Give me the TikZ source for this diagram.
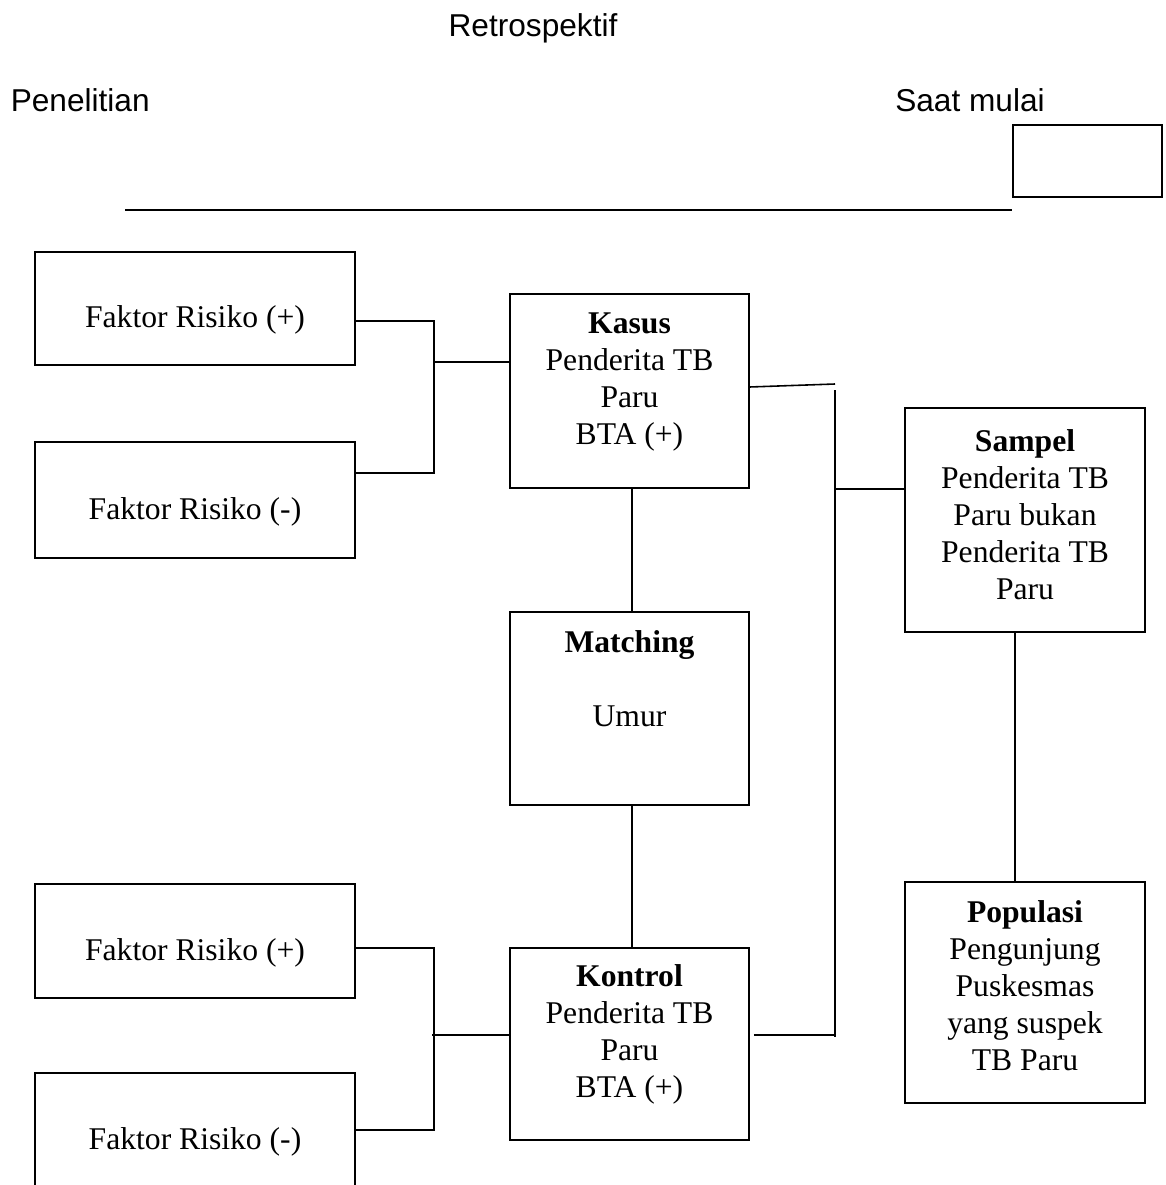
\documentclass[tikz,border=0pt]{standalone}
\usepackage{fontspec}
\setmainfont{Liberation Serif}
\setsansfont{Liberation Sans}
\usetikzlibrary{calc}

\begin{document}
\begin{tikzpicture}[x=0.02cm,y=-0.02cm,line width=0.9pt,
  box/.style={draw,inner sep=0pt,font=\fontsize{18}{21}\selectfont},
  isi/.style={anchor=north,yshift=-0.38cm,align=center,inner sep=0pt,font=\fontsize{18}{21}\selectfont},
  fr/.style={box,minimum width=6.4cm,label={[yshift=-0.23cm,inner sep=0pt,font=\fontsize{18}{21}\selectfont]center:#1}},
  judul/.style={font=\sffamily\fontsize{18}{21}\selectfont,inner sep=0pt}]
\useasboundingbox (0,0) rectangle (1165,1185);
% judul
\node[judul] (retro) at (533,28) {Retrospektif};
\node[judul,anchor=west] (penelitian) at (10,100) {Penelitian};
\node[judul] (saat) at (970,100) {Saat mulai};
\node[box,minimum width=2.98cm,minimum height=1.44cm] (kotak) at (1087.5,161) {};
\coordinate (awal) at (125,210);
\draw (awal) -- (awal -| kotak.west);
% faktor risiko
\node[fr={Faktor Risiko (+)},minimum height=2.26cm] (fra) at (195,308.5) {};
\node[fr={Faktor Risiko (-)},minimum height=2.32cm] (frb) at (195,500) {};
\node[fr={Faktor Risiko (+)},minimum height=2.28cm] (frc) at (195,941) {};
\node[fr={Faktor Risiko (-)},minimum height=2.3cm] (frd) at (195,1130.5) {};
% kasus, matching, kontrol
\node[box,minimum width=4.78cm,minimum height=3.88cm,
  label={[isi]north:{\textbf{Kasus}\\Penderita TB\\Paru\\BTA (+)}}] (kasus) at (629.5,391) {};
\node[box,minimum width=4.78cm,minimum height=3.86cm,
  label={[isi]north:{\textbf{Matching}\\[21pt]Umur}}] (matching) at (629.5,708.5) {};
\node[box,minimum width=4.78cm,minimum height=3.84cm,
  label={[isi,yshift=0.04cm]north:{\textbf{Kontrol}\\Penderita TB\\Paru\\BTA (+)}}] (kontrol) at (629.5,1044) {};
% sampel, populasi
\node[box,minimum width=4.8cm,minimum height=4.48cm,
  label={[isi,yshift=-0.06cm]north:{\textbf{Sampel}\\Penderita TB\\Paru bukan\\Penderita TB\\Paru}}] (sampel) at (1025,520) {};
\node[box,minimum width=4.8cm,minimum height=4.42cm,
  label={[isi]north:{\textbf{Populasi}\\Pengunjung\\Puskesmas\\yang suspek\\TB Paru}}] (populasi) at (1025,992.5) {};
% garis penghubung
\coordinate (jA1) at (434,321);
\coordinate (jA2) at (434,473);
\coordinate (jA) at (434,362);
\draw (fra.east |- jA1) -- (jA1) -- (jA2) -- (frb.east |- jA2);
\draw (jA) -- (kasus.west |- jA);
\coordinate (jB1) at (434,948);
\coordinate (jB2) at (434,1130);
\coordinate (jB) at (432,1035);
\draw (frc.east |- jB1) -- (jB1) -- (jB2) -- (frd.east |- jB2);
\draw (jB) -- (kontrol.west |- jB);
\draw ($(kasus.south)+(2.5,0)$) -- ($(matching.north)+(2.5,0)$);
\draw ($(matching.south)+(2.5,0)$) -- ($(kontrol.north)+(2.5,0)$);
\coordinate (kR1) at (835,384);
\coordinate (kR2) at (835,390);
\coordinate (kR3) at (835,1037);
\coordinate (jS) at (835,489);
\draw ($(kasus.east)+(0,-4)$) -- (kR1);
\draw (kR2) -- (kR3);
\draw ($(kontrol.east)+(4,-9)$) -- (kR3 |- 0,1035);
\draw (jS) -- (sampel.west |- jS);
\draw ($(sampel.south)+(-10,0)$) -- ($(populasi.north)+(-10,0)$);
\end{tikzpicture}
\end{document}
